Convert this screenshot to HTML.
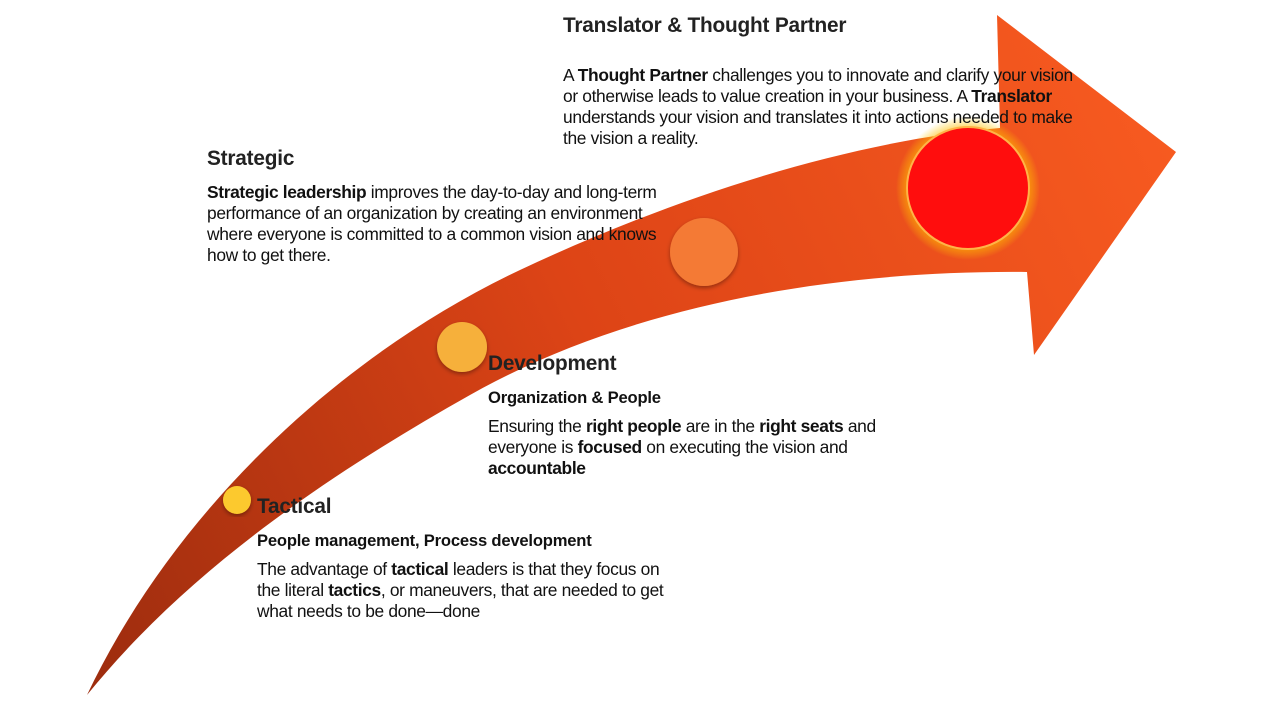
<!DOCTYPE html>
<html><head><meta charset="utf-8"><style>
html,body{margin:0;padding:0;background:#fff;}
.wrap{position:relative;width:1280px;height:720px;overflow:hidden;font-family:"Liberation Sans",Arial,sans-serif;color:#111;}
.t{position:absolute;font-size:17.4px;line-height:21px;letter-spacing:-0.35px;white-space:nowrap;}
.h{position:absolute;font-size:20.8px;font-weight:bold;color:#222;letter-spacing:-0.2px;}
.s{position:absolute;font-size:16.6px;font-weight:bold;letter-spacing:-0.2px;}
</style></head><body><div class="wrap">
<svg width="1280" height="720" style="position:absolute;left:0;top:0">
<defs>
<linearGradient id="g" x1="80" y1="690" x2="1180" y2="150" gradientUnits="userSpaceOnUse">
<stop offset="0" stop-color="#9c2c0e"/><stop offset="0.5" stop-color="#dd4416"/><stop offset="1" stop-color="#f75a20"/>
</linearGradient>
<radialGradient id="glow"><stop offset="0.75" stop-color="#ffb000" stop-opacity="0.9"/><stop offset="1" stop-color="#ffd000" stop-opacity="0"/></radialGradient>
<filter id="sh"><feDropShadow dx="0" dy="2" stdDeviation="2" flood-color="#000" flood-opacity="0.35"/></filter>
</defs>
<path d="M87,695 C170,520 330,360 520,270 C690,190 860,140 1000,128 L997,15 L1176,152 L1034,355 L1027,272 C820,270 620,310 470,395 C310,485 180,580 87,695 Z" fill="url(#g)"/>
<circle cx="968" cy="188" r="72" fill="url(#glow)"/>
<circle cx="968" cy="188" r="61" fill="#ff0d0d" stroke="#ffb347" stroke-width="2"/>
<circle cx="704" cy="252" r="34" fill="#f47a35" filter="url(#sh)"/>
<circle cx="462" cy="347" r="25" fill="#f6b03a" filter="url(#sh)"/>
<circle cx="237" cy="500" r="14" fill="#fcc92e" filter="url(#sh)"/>
</svg>
<div class="h" style="left:563px;top:14px">Translator &amp; Thought Partner</div>
<div class="t" style="left:563px;top:65px">A <b>Thought Partner</b> challenges you to innovate and clarify your vision<br>or otherwise leads to value creation in your business. A <b>Translator</b><br>understands your vision and translates it into actions needed to make<br>the vision a reality.</div>
<div class="h" style="left:207px;top:147px">Strategic</div>
<div class="t" style="left:207px;top:182px"><b>Strategic leadership</b> improves the day-to-day and long-term<br>performance of an organization by creating an environment<br>where everyone is committed to a common vision and knows<br>how to get there.</div>
<div class="h" style="left:488px;top:352px">Development</div>
<div class="s" style="left:488px;top:388px">Organization &amp; People</div>
<div class="t" style="left:488px;top:416px">Ensuring the <b>right people</b> are in the <b>right seats</b> and<br>everyone is <b>focused</b> on executing the vision and<br><b>accountable</b></div>
<div class="h" style="left:257px;top:495px">Tactical</div>
<div class="s" style="left:257px;top:531px">People management, Process development</div>
<div class="t" style="left:257px;top:559px">The advantage of <b>tactical</b> leaders is that they focus on<br>the literal <b>tactics</b>, or maneuvers, that are needed to get<br>what needs to be done—done</div>
</div></body></html>
